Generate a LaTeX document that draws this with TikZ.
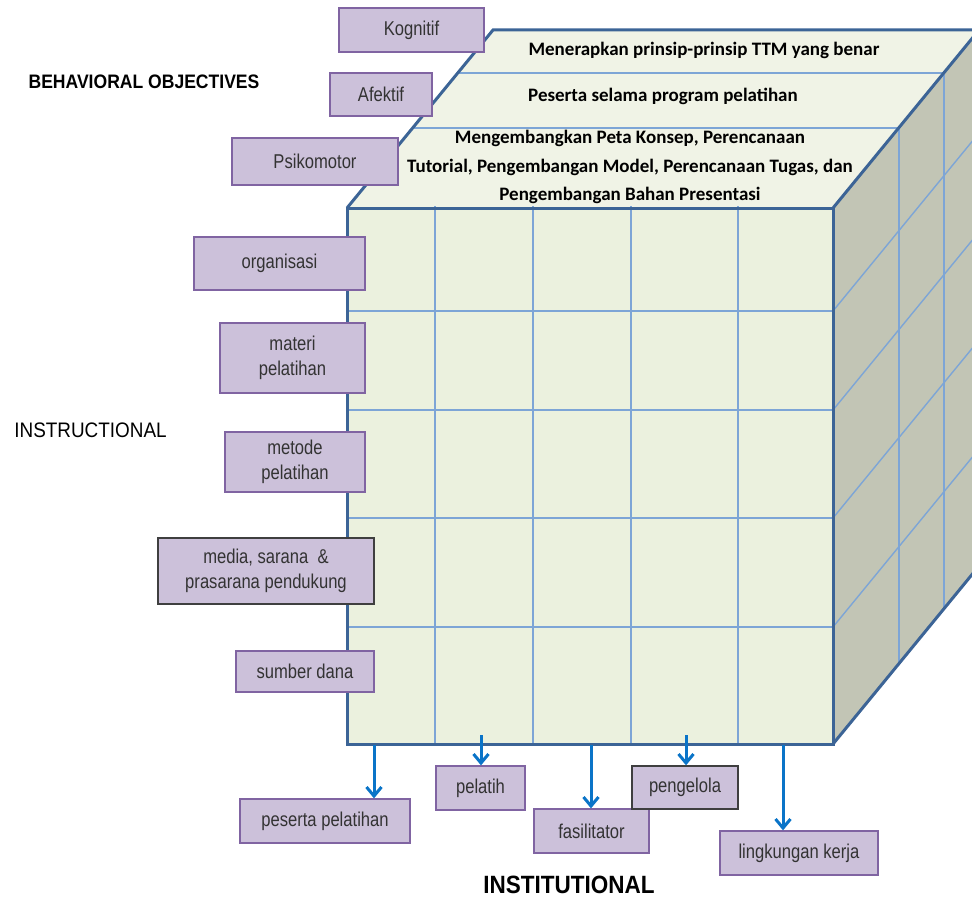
\documentclass[tikz,border=0pt]{standalone}
\usepackage{fontspec}
\setmainfont{Liberation Sans}
\newfontfamily\lblfont[FakeStretch=0.83]{Liberation Sans}
\newfontfamily\hdfont[FakeStretch=0.9]{Liberation Sans}
\newfontfamily\topfont{Carlito}
\usetikzlibrary{arrows.meta}
\definecolor{boxfill}{HTML}{CCC1DA}
\definecolor{boxborder}{HTML}{8064A2}
\definecolor{darkborder}{HTML}{3F3F3F}
\definecolor{txtgray}{HTML}{333333}
\definecolor{frontfill}{HTML}{EBF1DE}
\definecolor{topfill}{HTML}{F0F3E6}
\definecolor{rightfill}{HTML}{C2C5B5}
\definecolor{edgeblue}{HTML}{3C6496}
\definecolor{gridblue}{HTML}{7DA5D6}
\definecolor{arrowblue}{HTML}{0A74C8}
\tikzset{
  lbl/.style={draw=boxborder, fill=boxfill, line width=1.3pt, inner sep=0pt, align=center,
    font=\lblfont\fontsize{20}{25}\selectfont, text=txtgray},
  lbldark/.style={lbl, draw=darkborder},
  edge/.style={draw=edgeblue, line width=3pt, line join=miter},
  gridln/.style={draw=gridblue, line width=1.4pt},
  arr/.style={draw=arrowblue, line width=3pt, -{Straight Barb[length=9pt,width=15pt]}},
  toptext/.style={font=\topfont\bfseries\fontsize{19}{28.5}\selectfont, align=center, inner sep=0pt, text=black},
  heading/.style={font=\hdfont\bfseries\fontsize{19.5}{22}\selectfont, inner sep=0pt, text=black}
}
\begin{document}
\begin{tikzpicture}[x=1pt,y=-1pt]
\useasboundingbox (0,0) rectangle (972,899);
\clip (0,0) rectangle (972,899);
% faces
\fill[topfill] (347,208) -- (493,30) -- (979,30) -- (833,208) -- cycle;
\fill[rightfill] (833,208) -- (979,30) -- (979,566) -- (833,744) -- cycle;
\fill[frontfill] (347,208) rectangle (833,744);
% top dividers
\draw[gridln] (458,73) -- (944,73);
\draw[gridln] (413,128) -- (899,128);
% right face grid
\draw[gridln] (944,73) -- (944,609);
\draw[gridln] (899,128) -- (899,664);
\foreach \yy in {311,410,518,627}{
  \draw[gridln] (833,\yy) -- (979,\yy-178);
}
% front grid
\foreach \xx in {435,533,631,738}{
  \draw[gridln] (\xx,206) -- (\xx,744);
}
\foreach \yy in {311,410,518,627}{
  \draw[gridln] (347,\yy) -- (833,\yy);
}
% edges
\draw[edge] (347,208) -- (493,30) -- (979,30);
\draw[edge] (833,208) -- (979,30);
\draw[edge] (833,744) -- (979,566);
\draw[edge] (347,208) rectangle (833,744);
% top face text
\node[toptext] (t1) at (704,50) {Menerapkan prinsip-prinsip TTM yang benar};
\node[toptext] (t2) at (663,96) {Peserta selama program pelatihan};
\node[toptext] (t3) at (630,167) {Mengembangkan Peta Konsep, Perencanaan\\Tutorial, Pengembangan Model, Perencanaan Tugas, dan\\Pengembangan Bahan Presentasi};
% headings
\node[heading] (hbeh) at (144,82) {BEHAVIORAL OBJECTIVES};
\node[heading, font=\hdfont\fontsize{21}{24}\selectfont] (hins) at (90.5,430) {INSTRUCTIONAL};
\node[heading, font=\hdfont\bfseries\fontsize{25}{28}\selectfont] (hinst) at (569,885) {INSTITUTIONAL};
% left boxes
\node[lbl, minimum width=145pt, minimum height=44pt] (kog) at (411.5,30) {Kognitif};
\node[lbl, minimum width=102pt, minimum height=43pt] (afe) at (381,94.5) {Afektif};
\node[lbl, minimum width=166pt, minimum height=47pt] (psi) at (315,161.5) {Psikomotor};
\node[lbl, minimum width=171pt, minimum height=53pt] (org) at (279.5,263.5) {organisasi};
\node[lbl, minimum width=145pt, minimum height=70pt] (mat) at (292.5,358) {materi\\pelatihan};
\node[lbl, minimum width=140pt, minimum height=60pt] (met) at (295,462) {metode\\pelatihan};
\node[lbldark, minimum width=216pt, minimum height=66pt] (med) at (266,571) {media, sarana~~\&\\prasarana pendukung};
\node[lbl, minimum width=138pt, minimum height=41pt] (sum) at (305,671.5) {sumber dana};
% bottom boxes
\node[lbl, minimum width=170pt, minimum height=44pt] (pes) at (325,821) {peserta pelatihan};
\node[lbl, minimum width=89pt, minimum height=44pt] (pel) at (480.5,788) {pelatih};
\node[lbl, minimum width=115pt, minimum height=44pt] (fas) at (591.5,831) {fasilitator};
\node[lbldark, minimum width=106pt, minimum height=43pt] (pen) at (685,787.5) {pengelola};
\node[lbl, minimum width=158pt, minimum height=44pt] (lin) at (799,853) {lingkungan kerja};
% arrows
\coordinate (c1) at (374,745);
\coordinate (c2) at (481,735);
\coordinate (c3) at (591,745);
\coordinate (c4) at (686,735);
\coordinate (c5) at (783,745);
\draw[arr] (c1) -- (c1 |- pes.north);
\draw[arr] (c2) -- (c2 |- pel.north);
\draw[arr] (c3) -- (c3 |- fas.north);
\draw[arr] (c4) -- (c4 |- pen.north);
\draw[arr] (c5) -- (c5 |- lin.north);
\end{tikzpicture}
\end{document}
